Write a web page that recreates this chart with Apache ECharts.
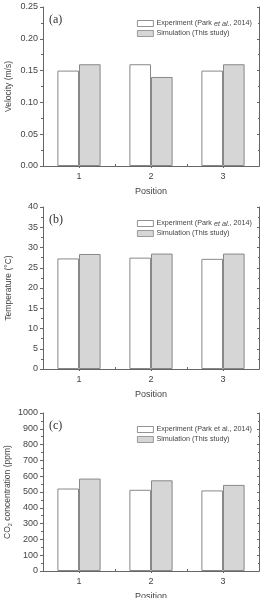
<!DOCTYPE html>
<html>
<head>
<meta charset="utf-8">
<script src="https://cdn.jsdelivr.net/npm/echarts@6/dist/echarts.min.js"></script>
<style>
  html, body { margin: 0; padding: 0; background: #fff; }
  #chart { width: 263px; height: 598px; }
</style>
</head>
<body>
<div id="chart"></div>
<script>
// data
var positions = ['1', '2', '3'];
var seriesNames = ['Experiment (Park et al., 2014)', 'Simulation (This study)'];

var velExp = [0.15, 0.16, 0.15];
var velSim = [0.16, 0.14, 0.16];
var tempExp = [27.3, 27.5, 27.2];
var tempSim = [28.4, 28.5, 28.5];
var co2Exp = [522, 514, 510];
var co2Sim = [585, 574, 545];

var panelLabels = ['(a)', '(b)', '(c)'];
var yNames = ['Velocity (m/s)', 'Temperature (°C)', 'CO{sub|2} concentration (ppm)'];
var yMax = [0.25, 40, 1000];
var yStep = [0.05, 5, 100];
var italicEtAl = [true, true, false];

var grids = [
  { top: 7, height: 159 },
  { top: 207, height: 162 },
  { top: 413, height: 158 }
];

var axisColor = '#666';
var textColor = '#444';
var font = "'Liberation Sans', Arial, sans-serif";

var myChart = echarts.init(document.getElementById('chart'));

var option = {
  animation: false,
  backgroundColor: '#fff',
  title: [],
  legend: [],
  grid: [],
  xAxis: [],
  yAxis: [],
  series: []
};

var expData = [velExp, tempExp, co2Exp];
var simData = [velSim, tempSim, co2Sim];

for (var i = 0; i < 3; i++) {
  option.grid.push({
    left: 43, right: 4, top: grids[i].top, height: grids[i].height,
    containLabel: false, outerBoundsMode: 'none'
  });

  // bottom axis
  option.xAxis.push({
    type: 'category',
    gridIndex: i,
    data: positions,
    name: 'Position',
    nameLocation: 'middle',
    nameGap: 21,
    nameMoveOverlap: false,
    nameTextStyle: { fontSize: 9, color: textColor, fontFamily: font },
    axisLine: { lineStyle: { color: axisColor, width: 1 } },
    axisTick: { show: true, inside: true, length: 2, lineStyle: { color: axisColor } },
    axisLabel: { fontSize: 9, color: textColor, fontFamily: font, margin: 6 },
    splitLine: { show: false }
  });
  // top axis (box)
  option.xAxis.push({
    type: 'category',
    gridIndex: i,
    position: 'top',
    data: positions,
    axisLine: { lineStyle: { color: axisColor, width: 1 } },
    axisTick: { show: true, inside: true, length: 2, alignWithLabel: true, lineStyle: { color: axisColor } },
    axisLabel: { show: false },
    splitLine: { show: false }
  });

  option.yAxis.push({
    type: 'value',
    gridIndex: i,
    min: 0,
    max: yMax[i],
    interval: yStep[i],
    name: yNames[i],
    nameLocation: 'middle',
    nameGap: 30,
    nameMoveOverlap: false,
    nameTextStyle: {
      fontSize: 8.5, color: textColor, fontFamily: font,
      rich: { sub: { fontSize: 5.5, color: textColor, fontFamily: font, padding: [5, 0, 0, 0] } }
    },
    axisLine: { show: true, lineStyle: { color: axisColor, width: 1 } },
    axisTick: { show: true, length: 3, lineStyle: { color: axisColor } },
    minorTick: { show: true, splitNumber: 2, length: 2, lineStyle: { color: axisColor } },
    axisLabel: {
      fontSize: 9, color: textColor, fontFamily: font, margin: 5,
      formatter: (function (k) {
        return function (v) { return k === 0 ? v.toFixed(2) : String(v); };
      })(i)
    },
    splitLine: { show: false }
  });
  option.yAxis.push({
    type: 'value',
    gridIndex: i,
    position: 'right',
    min: 0,
    max: yMax[i],
    interval: yStep[i],
    axisLine: { show: true, lineStyle: { color: axisColor, width: 1 } },
    axisTick: { show: true, inside: true, length: 2, lineStyle: { color: axisColor } },
    minorTick: { show: true, splitNumber: 2, length: 1, lineStyle: { color: axisColor } },
    axisLabel: { show: false },
    splitLine: { show: false }
  });

  option.title.push({
    text: panelLabels[i],
    left: 47,
    top: grids[i].top + 5,
    padding: [2, 2, 2, 2],
    textStyle: { fontSize: 12, fontWeight: 'normal', color: '#333', fontFamily: "'Liberation Serif', 'Times New Roman', serif" }
  });

  var italic = italicEtAl[i];
  option.legend.push({
    orient: 'vertical',
    left: 137,
    top: grids[i].top + 13,
    padding: 0,
    itemWidth: 16,
    itemHeight: 6,
    itemGap: 3,
    icon: 'rect',
    selectedMode: false,
    data: [
      { name: seriesNames[0] + ' ' + i, itemStyle: { color: '#fff', borderColor: '#777', borderWidth: 0.8 } },
      { name: seriesNames[1] + ' ' + i, itemStyle: { color: '#d6d6d6', borderColor: '#888', borderWidth: 0.8 } }
    ],
    formatter: (function (it) {
      return function (name) {
        if (name.indexOf('Experiment') === 0) {
          return it ? '{n|Experiment (Park }{i|et al.}{n|, 2014)}' : '{n|Experiment (Park et al., 2014)}';
        }
        return '{n|Simulation (This study)}';
      };
    })(italic),
    textStyle: {
      fontSize: 7.2, color: textColor, fontFamily: font, padding: [0, 0, 0, -2],
      rich: {
        n: { fontSize: 7.2, color: textColor, fontFamily: font },
        i: { fontSize: 7.2, color: textColor, fontFamily: font, fontStyle: 'italic' }
      }
    }
  });

  option.series.push({
    name: seriesNames[0] + ' ' + i,
    type: 'bar',
    xAxisIndex: i * 2,
    yAxisIndex: i * 2,
    data: expData[i],
    barGap: '0%',
    barCategoryGap: '40%',
    itemStyle: { color: '#fff', borderColor: '#888', borderWidth: 1 }
  });
  option.series.push({
    name: seriesNames[1] + ' ' + i,
    type: 'bar',
    xAxisIndex: i * 2,
    yAxisIndex: i * 2,
    data: simData[i],
    barGap: '0%',
    barCategoryGap: '40%',
    itemStyle: { color: '#d6d6d6', borderColor: '#888', borderWidth: 1 }
  });
}

myChart.setOption(option);
</script>
</body>
</html>
